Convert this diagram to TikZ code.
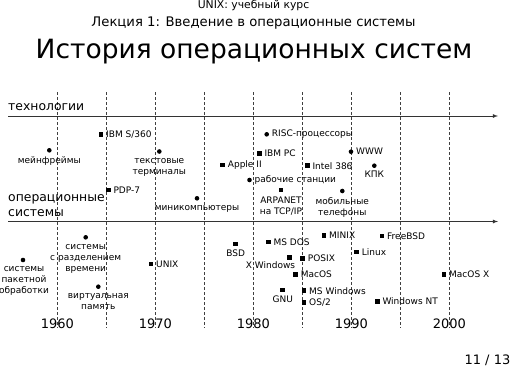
\documentclass[tikz,border=0pt]{standalone}
\usepackage{fontspec}
\setmainfont{DejaVu Sans}
\usetikzlibrary{arrows,positioning}

\begin{document}
\begin{tikzpicture}[x=1pt,y=-1pt,
  hdone/.style={font=\fontsize{10.8}{12}\selectfont,anchor=base,inner sep=0pt},
  hdtwo/.style={font=\fontsize{13.2}{15}\selectfont,anchor=base,inner sep=0pt},
  ttl/.style={font=\fontsize{26.5}{30}\selectfont,anchor=base,inner sep=0pt},
  side/.style={font=\fontsize{12.4}{14.5}\selectfont,anchor=base west,inner sep=0pt,align=left},
  yr/.style={font=\fontsize{13}{15}\selectfont,anchor=base,inner sep=0pt},
  pg/.style={font=\fontsize{13}{15}\selectfont,anchor=base east,inner sep=0pt},
  dot/.style={circle,fill=black,inner sep=0pt,minimum size=4.6pt},
  sq/.style={rectangle,fill=black,inner sep=0pt,minimum size=4.6pt},
  lb/.style={font=\fontsize{9}{11}\selectfont,inner sep=0pt,align=center},
  axis/.style={->,>=latex,thick,black!80},
  grid/.style={black!75,dash pattern=on 3pt off 2pt},
  ]
  \useasboundingbox (0,0) rectangle (511,367);

  % headings
  \node at (253.5,8.5) [hdone] (course) {UNIX: учебный курс};
  \node at (253.5,26) [hdtwo] (lecture) {Лекция 1: Введение в операционные системы};
  \node at (254,58.8) [ttl] (title) {История операционных систем};

  % decades
  \foreach \k in {0,...,8}
    \draw[grid] (57.3+49*\k,92) -- (57.3+49*\k,328);
  \foreach \y/\k in {1960/0,1970/2,1980/4,1990/6,2000/8}
    \node at (57.3+49*\k,328.7) [yr] (y\y) {\y};

  % axes
  \coordinate (tstart) at (8,116);
  \coordinate (tend) at (498,116);
  \coordinate (ostart) at (8,221.5);
  \coordinate (oend) at (498,221.5);
  \draw[axis] (tstart) -- (tend);
  \draw[axis] (ostart) -- (oend);
  \node at (8,110) [side] (tech) {технологии};
  \node at (8,216.2) [side] (osys) {операционные\\системы};

  % technologies
  \node at (49.3,150.3) [dot] (mf) {};
  \node [lb,below=4pt of mf] (mft) {мейнфреймы};
  \node at (101,134.3) [sq] (s360) {};
  \node [lb,right=2.5pt of s360] (s360t) {IBM S/360};
  \node at (108.3,190) [sq] (pdp) {};
  \node [lb,right=2.5pt of pdp] (pdpt) {PDP-7};
  \node at (159.3,151.5) [dot] (term) {};
  \node [lb,below=4pt of term] (termt) {текстовые\\терминалы};
  \node at (197,198.3) [dot] (mini) {};
  \node [lb,below=4pt of mini] (minit) {миникомпьютеры};
  \node at (222.7,165) [sq] (apple) {};
  \node [lb,right=2.5pt of apple] (applet) {Apple II};
  \node at (249.5,180) [dot] (ws) {};
  \node [lb,right=2.5pt of ws] (wst) {рабочие станции};
  \node at (259.3,153.5) [sq] (ibmpc) {};
  \node [lb,right=2.5pt of ibmpc] (ibmpct) {IBM PC};
  \node at (266.7,134.3) [dot] (risc) {};
  \node [lb,right=2.5pt of risc] (risct) {RISC-процессоры};
  \node at (281,190) [sq] (arpa) {};
  \node [lb,below=4pt of arpa] (arpat) {ARPANET\\на TCP/IP};
  \node at (307.3,165.7) [sq] (i386) {};
  \node [lb,right=2.5pt of i386] (i386t) {Intel 386};
  \node at (342.3,191) [dot] (mob) {};
  \node [lb,below=4pt of mob] (mobt) {мобильные\\телефоны};
  \node at (351,151.7) [dot] (www) {};
  \node [lb,right=2.5pt of www] (wwwt) {WWW};
  \node at (374.3,165.7) [dot] (pda) {};
  \node [lb,below=3pt of pda] (pdat) {КПК};

  % operating systems
  \node at (23,260) [dot] (batch) {};
  \node [lb,below=4pt of batch,xshift=1pt] (batcht) {системы\\пакетной\\обработки};
  \node at (85.7,237.3) [dot] (tsh) {};
  \node [lb,below=4pt of tsh] (tsht) {системы\\с разделением\\времени};
  \node at (98.3,286.7) [dot] (vm) {};
  \node [lb,below=4pt of vm] (vmt) {виртуальная\\память};
  \node at (151,264) [sq] (unix) {};
  \node [lb,right=2.5pt of unix] (unixt) {UNIX};
  \node at (235.7,244) [sq] (bsd) {};
  \node [lb,below=3pt of bsd] (bsdt) {BSD};
  \node at (268.3,242) [sq] (msdos) {};
  \node [lb,right=2.5pt of msdos] (msdost) {MS DOS};
  \node at (289.3,257.3) [sq] (xwin) {};
  \node [lb,anchor=north east] at ([shift={(6,2)}]xwin.south) (xwint) {X Windows};
  \node at (302.7,258.7) [sq] (posix) {};
  \node [lb,right=2.5pt of posix] (posixt) {POSIX};
  \node at (324,235.3) [sq] (minix) {};
  \node [lb,right=2.5pt of minix] (minixt) {MINIX};
  \node at (382,236) [sq] (fbsd) {};
  \node [lb,right=2.5pt of fbsd] (fbsdt) {FreeBSD};
  \node at (356.7,252) [sq] (linux) {};
  \node [lb,right=2.5pt of linux] (linuxt) {Linux};
  \node at (295.7,274.3) [sq] (macos) {};
  \node [lb,right=2.5pt of macos] (macost) {MacOS};
  \node at (444,274.3) [sq] (macosx) {};
  \node [lb,right=2.5pt of macosx] (macosxt) {MacOS X};
  \node at (282.7,290) [sq] (gnu) {};
  \node [lb,below=3pt of gnu] (gnut) {GNU};
  \node at (304,290.7) [sq] (mswin) {};
  \node [lb,right=2.5pt of mswin] (mswint) {MS Windows};
  \node at (304,302.7) [sq] (os2) {};
  \node [lb,right=2.5pt of os2] (os2t) {OS/2};
  \node at (377.3,301.3) [sq] (wnt) {};
  \node [lb,right=2.5pt of wnt] (wntt) {Windows NT};

  \node at (510.5,364.8) [pg] (page) {11 / 13};
\end{tikzpicture}
\end{document}
